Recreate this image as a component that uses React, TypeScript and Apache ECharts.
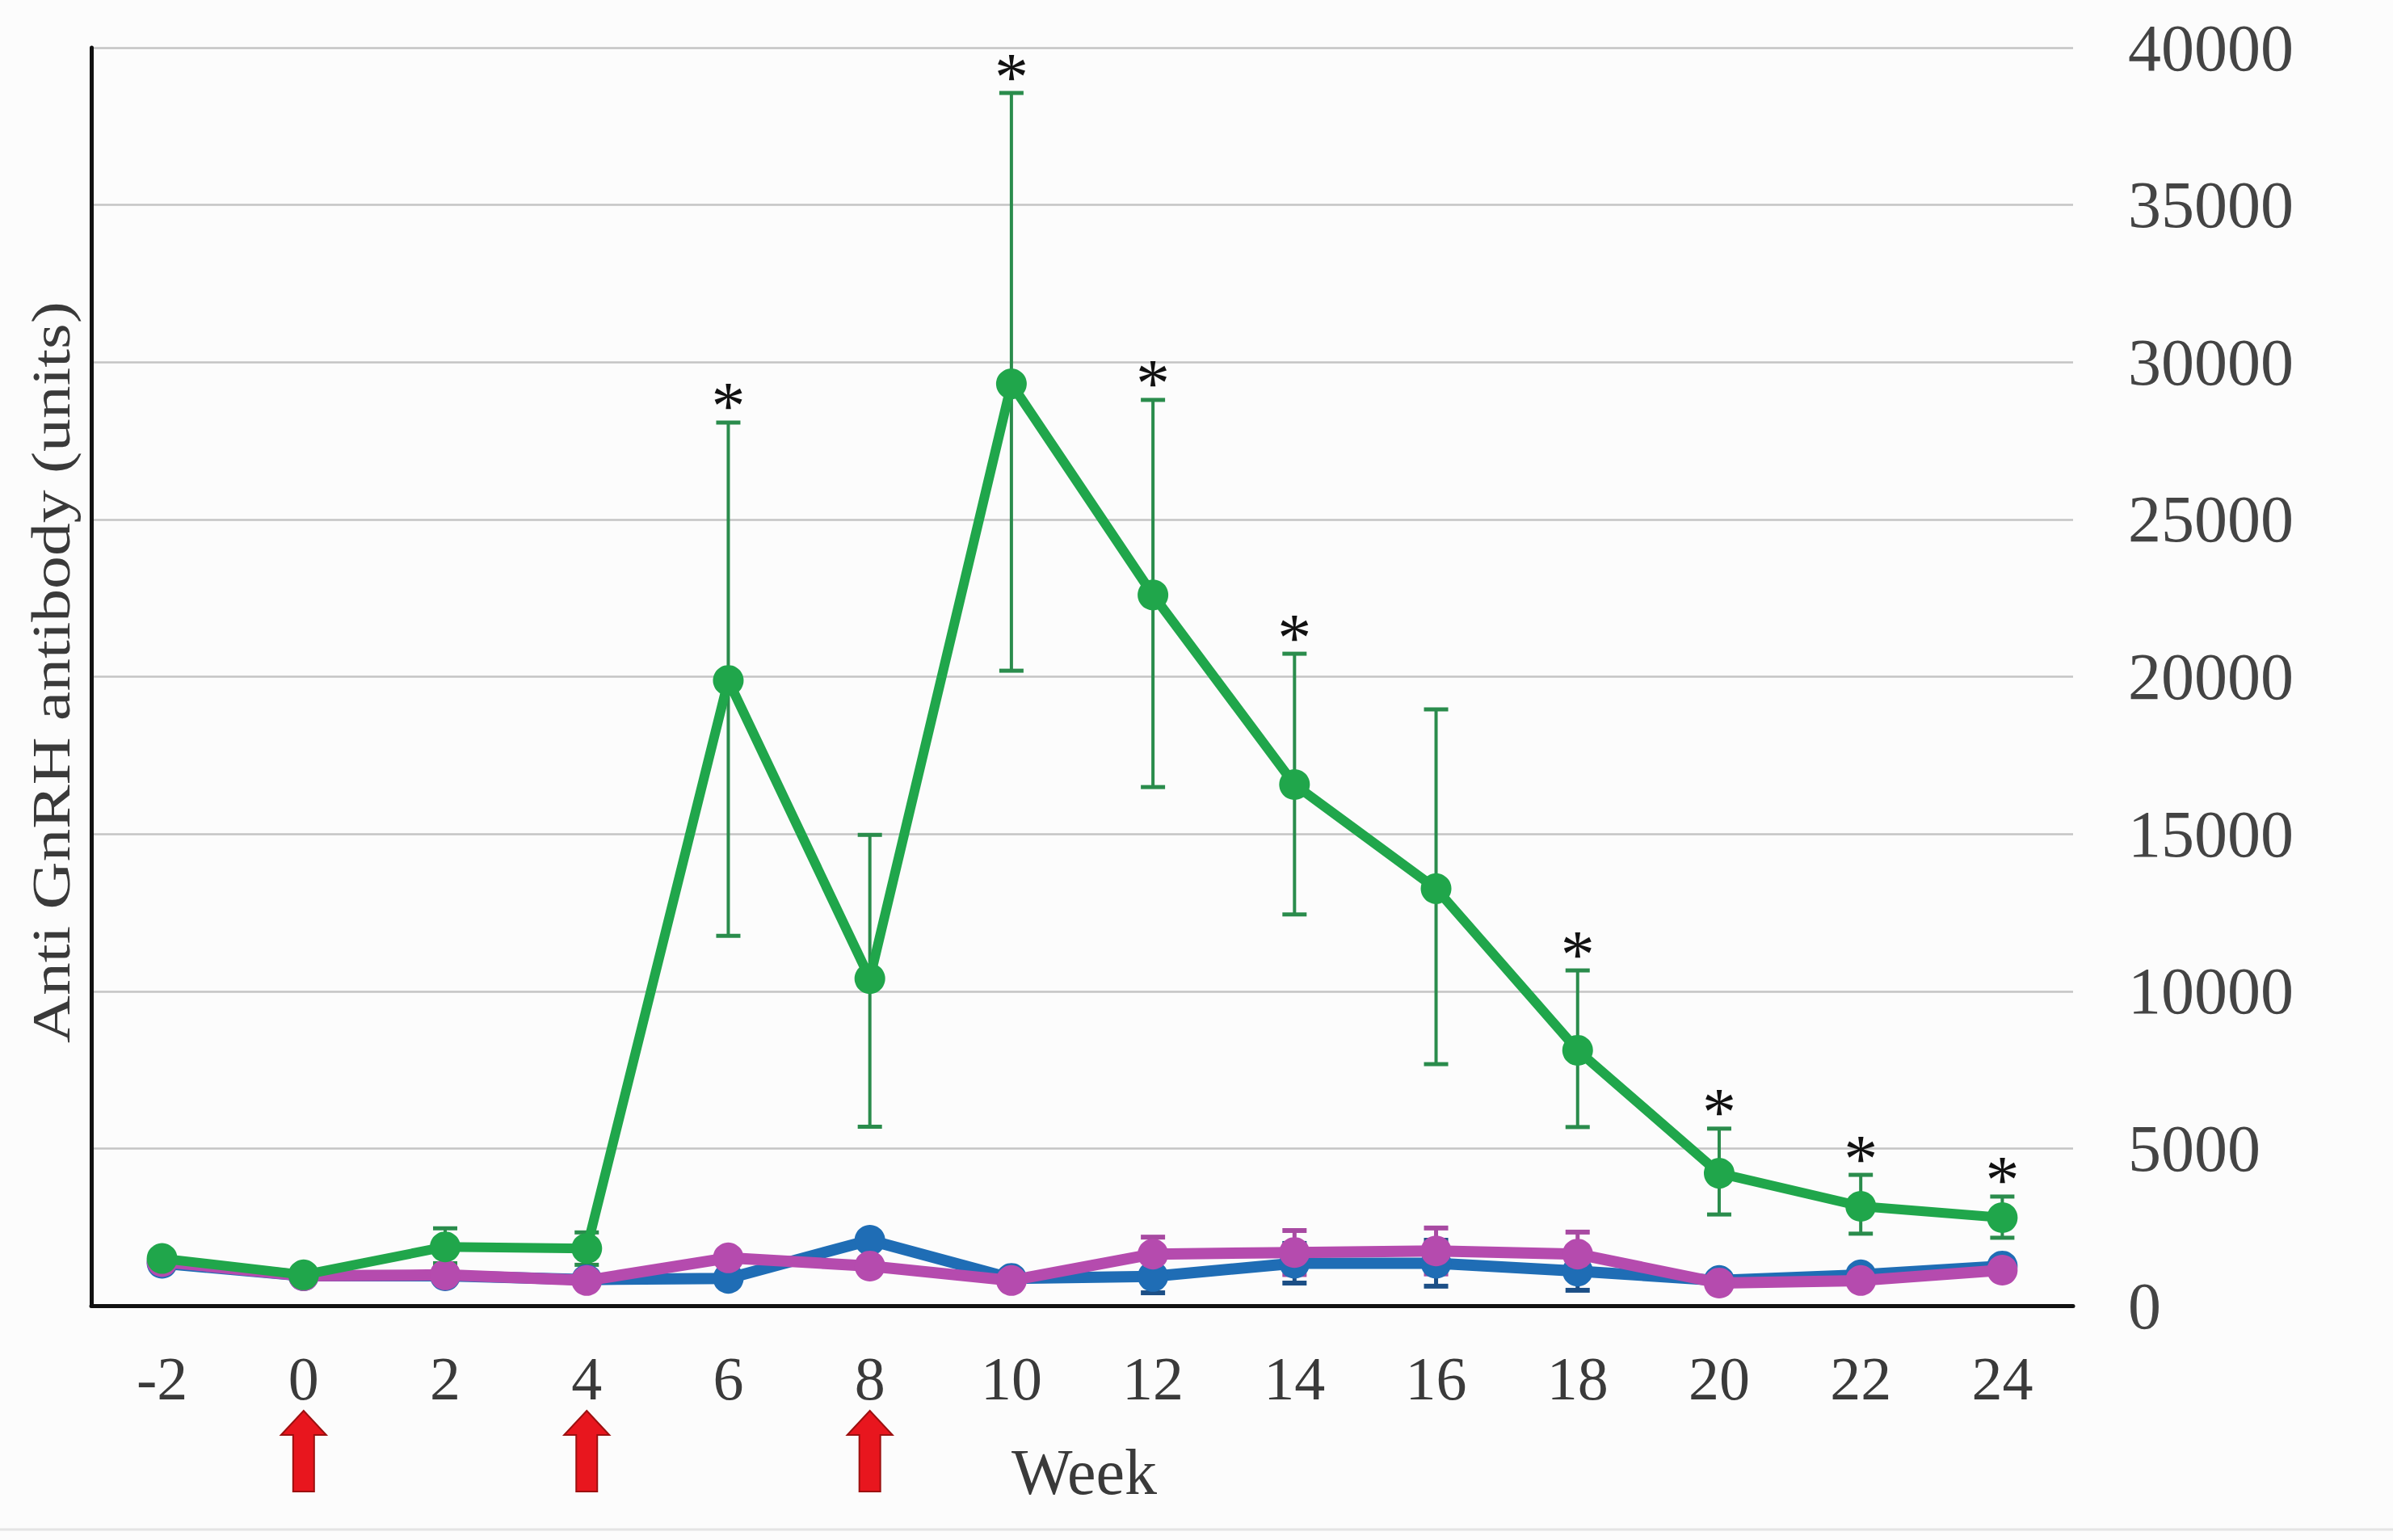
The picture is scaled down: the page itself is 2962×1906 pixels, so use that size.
import React, { useEffect, useRef } from "react";
import * as echarts from "echarts";

const weeks = ["-2", "0", "2", "4", "6", "8", "10", "12", "14", "16", "18", "20", "22", "24"];

const green = [1500, 980, 1870, 1820, 19880, 10400, 29310, 22600, 16570, 13260, 8120, 4210, 3160, 2800];
const greenHigh = [1500, 980, 2460, 2330, 28080, 14970, 38560, 28800, 20730, 18960, 10660, 5630, 4160, 3470];
const greenLow = [1500, 980, 1350, 1300, 11760, 5690, 20190, 16490, 12440, 7680, 5680, 2900, 2290, 2160];

const blue = [1350, 950, 950, 830, 870, 2080, 870, 930, 1350, 1350, 1100, 800, 980, 1260];
const blueHigh = [1350, 950, 950, 830, 870, 2080, 870, 1450, 1980, 2080, 1710, 800, 980, 1260];
const blueLow = [1350, 950, 950, 830, 870, 2080, 870, 410, 720, 620, 490, 800, 980, 1260];

const purple = [1400, 950, 980, 800, 1520, 1260, 800, 1640, 1690, 1740, 1640, 720, 800, 1130];
const purpleHigh = [1400, 950, 980, 800, 1520, 1260, 800, 2180, 2390, 2470, 2340, 720, 800, 1130];
const purpleLow = [1400, 950, 980, 800, 1520, 1260, 800, 1100, 990, 1010, 940, 720, 800, 1130];

const sigWeeks = ["6", "10", "12", "14", "18", "20", "22", "24"];
const arrowWeeks = ["0", "4", "8"];

const yMin = 0;
const yMax = 40000;
const yStep = 5000;

const SERIF = '"Liberation Serif", "Times New Roman", serif';
const GREEN = "#20a64b";
const GREEN_ERR = "#2a8c4c";
const BLUE = "#1f6db5";
const BLUE_ERR = "#1c4f86";
const PURPLE = "#b54bae";
const PURPLE_ERR = "#a84aa2";

function errData(low: number[], high: number[], sig: boolean) {
  return weeks.map((w, i) => [w, low[i], high[i], sig && sigWeeks.includes(w) ? 1 : 0]);
}

function errSeries(name: string, low: number[], high: number[], color: string, width: number, sig: boolean) {
  return {
    type: "custom",
    name,
    z: 1,
    clip: false,
    data: errData(low, high, sig),
    encode: { x: 0, y: [1, 2] },
    renderItem: (params: any, api: any) => {
      const lo = api.value(1);
      const hi = api.value(2);
      const children: any[] = [];
      const pLo = api.coord([api.value(0), lo]);
      const pHi = api.coord([api.value(0), hi]);
      const x = pLo[0];
      const cap = 15;
      if (hi !== lo) {
        children.push(
          { type: "line", shape: { x1: x, y1: pHi[1], x2: x, y2: pLo[1] }, style: { stroke: color, lineWidth: width } },
          { type: "line", shape: { x1: x - cap, y1: pHi[1], x2: x + cap, y2: pHi[1] }, style: { stroke: color, lineWidth: width + 1 } },
          { type: "line", shape: { x1: x - cap, y1: pLo[1], x2: x + cap, y2: pLo[1] }, style: { stroke: color, lineWidth: width + 1 } }
        );
      }
      if (api.value(3) === 1) {
        children.push({
          type: "text",
          style: {
            text: "*",
            x: x,
            y: pHi[1] - 20,
            fill: "#111",
            font: `84px ${SERIF}`,
            align: "center",
            verticalAlign: "middle",
          },
        });
      }
      return { type: "group", children };
    },
  };
}

function lineSeries(name: string, data: number[], color: string, z: number, width: number) {
  return {
    type: "line",
    name,
    data,
    z,
    symbol: "circle",
    symbolSize: 38,
    lineStyle: { color, width },
    itemStyle: { color },
  };
}

export default function App() {
  const ref = useRef<HTMLDivElement>(null);

  useEffect(() => {
    document.body.style.margin = "0";
    const chart = echarts.init(ref.current!, null, { renderer: "svg" });
    const option: any = {
      animation: false,
      backgroundColor: "#fcfcfc",
      grid: { left: 113, right: 396, top: 59, bottom: 290, containLabel: false },
      xAxis: {
        type: "category",
        data: weeks,
        boundaryGap: true,
        axisLine: { show: true, lineStyle: { color: "#111", width: 5 } },
        axisTick: { show: false },
        splitLine: { show: false },
        axisLabel: { color: "#3a3a3a", fontFamily: SERIF, fontSize: 76, margin: 52 },
      },
      yAxis: [
        {
          type: "value",
          position: "right",
          min: yMin,
          max: yMax,
          interval: yStep,
          axisLine: { show: false },
          axisTick: { show: false },
          splitLine: { show: true, lineStyle: { color: "#c4c4c4", width: 2.5 } },
          axisLabel: {
            color: "#444",
            fontFamily: SERIF,
            fontSize: 82,
            margin: 68,
            formatter: (v: number) => String(v),
          },
        },
        {
          type: "value",
          position: "left",
          min: yMin,
          max: yMax,
          interval: yStep,
          axisLine: { show: true, lineStyle: { color: "#111", width: 5 } },
          axisTick: { show: false },
          axisLabel: { show: false },
          splitLine: { show: false },
        },
      ],
      graphic: [
        {
          type: "text",
          x: 63,
          y: 832,
          rotation: Math.PI / 2,
          scaleX: 1.2,
          style: {
            text: "Anti GnRH antibody (units)",
            fill: "#3a3a3a",
            font: `68px ${SERIF}`,
            align: "center",
            verticalAlign: "middle",
          },
        },
        {
          type: "text",
          x: 1342,
          y: 1822,
          style: {
            text: "Week",
            fill: "#3a3a3a",
            font: `80px ${SERIF}`,
            align: "center",
            verticalAlign: "middle",
          },
        },
        {
          type: "line",
          shape: { x1: 0, y1: 1893, x2: 2962, y2: 1893 },
          style: { stroke: "#e4e4e4", lineWidth: 3 },
        },
      ],
      series: [
        errSeries("blueErr", blueLow, blueHigh, BLUE_ERR, 5, false),
        errSeries("purpleErr", purpleLow, purpleHigh, PURPLE_ERR, 5, false),
        errSeries("greenErr", greenLow, greenHigh, GREEN_ERR, 4, true),
        lineSeries("Blue", blue, BLUE, 2, 14),
        lineSeries("Purple", purple, PURPLE, 3, 14),
        lineSeries("Green", green, GREEN, 4, 12),
        {
          type: "custom",
          name: "arrows",
          clip: false,
          z: 5,
          data: arrowWeeks.map((w) => [w, 0]),
          encode: { x: 0, y: 1 },
          renderItem: (params: any, api: any) => {
            const p = api.coord([api.value(0), 0]);
            const x = p[0];
            const t = p[1] + 130;
            const hw = 28;
            const sw = 13;
            const hh = 30;
            const len = 100;
            return {
              type: "polygon",
              shape: {
                points: [
                  [x, t],
                  [x + hw, t + hh],
                  [x + sw, t + hh],
                  [x + sw, t + len],
                  [x - sw, t + len],
                  [x - sw, t + hh],
                  [x - hw, t + hh],
                ],
              },
              style: { fill: "#e8161e", stroke: "#9c1010", lineWidth: 2 },
            };
          },
        },
      ],
    };
    chart.setOption(option);
    return () => chart.dispose();
  }, []);

  return <div ref={ref} style={{ width: 2962, height: 1906 }} />;
}
